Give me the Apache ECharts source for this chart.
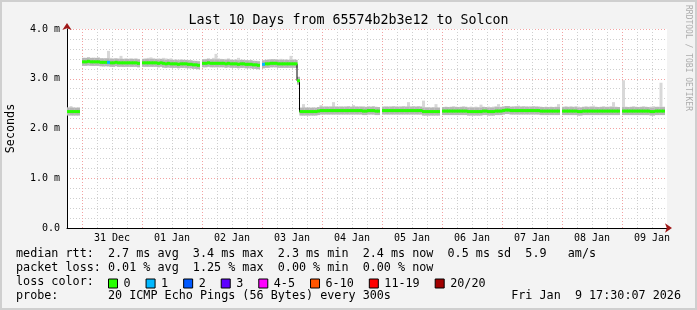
<!DOCTYPE html>
<html><head><meta charset="utf-8">
<script src="https://cdn.jsdelivr.net/npm/echarts@6/dist/echarts.min.js"></script>
<style>
html,body{margin:0;padding:0;background:#f3f3f3;}
#wrap{position:relative;width:697px;height:310px;}
#chart{width:697px;height:310px;}
#frame{position:absolute;left:0;top:0;width:697px;height:310px;box-sizing:border-box;border:2px solid #cfcfcf;pointer-events:none;}
</style></head><body>
<div id="wrap"><div id="chart"></div><div id="frame"></div></div>
<script>
// hours relative to 31 Dec 00:00, one bucket per hour
const startHour = -6;
const endHour = 234;
const dayLabels = ['31 Dec','01 Jan','02 Jan','03 Jan','04 Jan','05 Jan','06 Jan','07 Jan','08 Jan','09 Jan'];
const yTickLabels = ['0.0','1.0 m','2.0 m','3.0 m','4.0 m'];

// median rtt (ms), null = no data
const median = [
 2.34,2.34,2.34,2.34,2.34,null,3.34,3.34,3.35,3.34,3.34,3.34,3.34,3.33,3.33,3.33,3.33,3.32,3.32,3.33,3.32,3.32,3.32,3.32,
 3.32,3.32,3.32,3.32,3.31,null,3.32,3.32,3.32,3.32,3.32,3.32,3.31,3.32,3.31,3.30,3.31,3.30,3.30,3.30,3.29,3.30,3.30,3.30,
 3.29,3.29,3.28,3.28,3.27,null,3.31,3.31,3.32,3.31,3.31,3.31,3.31,3.31,3.31,3.30,3.31,3.30,3.30,3.30,3.29,3.30,3.30,3.29,
 3.29,3.29,3.28,3.28,3.27,null,3.29,3.30,3.30,3.31,3.31,3.31,3.30,3.30,3.30,3.30,3.30,3.30,3.30,3.30,2.96,2.34,2.34,2.34,
 2.34,2.34,2.34,2.34,2.35,2.36,2.36,2.36,2.36,2.36,2.36,2.36,2.36,2.36,2.36,2.36,2.36,2.36,2.36,2.36,2.36,2.36,2.35,2.35,
 2.36,2.36,2.36,2.35,2.35,null,2.36,2.36,2.36,2.36,2.36,2.36,2.36,2.36,2.36,2.36,2.36,2.36,2.36,2.36,2.36,2.36,2.34,2.34,
 2.34,2.34,2.34,2.34,2.34,null,2.35,2.35,2.35,2.35,2.35,2.35,2.35,2.35,2.35,2.35,2.34,2.34,2.34,2.34,2.34,2.34,2.35,2.35,
 2.34,2.34,2.34,2.35,2.35,2.35,2.36,2.37,2.37,2.36,2.36,2.36,2.36,2.36,2.36,2.36,2.36,2.36,2.36,2.36,2.36,2.35,2.35,2.35,
 2.35,2.35,2.35,2.35,2.35,null,2.35,2.35,2.35,2.35,2.35,2.35,2.34,2.34,2.35,2.35,2.35,2.35,2.35,2.35,2.35,2.35,2.35,2.35,
 2.35,2.35,2.35,2.35,2.35,null,2.35,2.35,2.35,2.35,2.35,2.35,2.35,2.35,2.35,2.35,2.35,2.34,2.34,2.35,2.35,2.35,2.35,null
];
// smoke: highest ping per bucket
const smokeHi = [
 2.42,2.45,2.42,2.41,2.42,null,3.41,3.40,3.42,3.41,3.42,3.41,3.43,3.41,3.40,3.41,3.56,3.42,3.41,3.40,3.41,3.46,3.40,3.41,
 3.40,3.41,3.40,3.41,3.40,null,3.40,3.41,3.42,3.43,3.41,3.40,3.41,3.40,3.42,3.41,3.40,3.41,3.38,3.39,3.38,3.39,3.38,3.37,
 3.38,3.37,3.36,3.35,3.36,null,3.39,3.40,3.41,3.40,3.42,3.50,3.41,3.40,3.39,3.40,3.41,3.39,3.38,3.39,3.42,3.38,3.37,3.38,
 3.37,3.38,3.36,3.35,3.36,null,3.37,3.38,3.39,3.38,3.39,3.38,3.39,3.40,3.38,3.39,3.38,3.46,3.39,3.38,3.00,2.41,2.49,2.42,
 2.42,2.41,2.42,2.41,2.43,2.47,2.43,2.44,2.43,2.44,2.53,2.44,2.43,2.44,2.43,2.44,2.45,2.43,2.47,2.44,2.43,2.44,2.45,2.44,
 2.44,2.43,2.45,2.44,2.43,null,2.43,2.44,2.43,2.44,2.45,2.44,2.43,2.44,2.45,2.44,2.53,2.44,2.45,2.44,2.45,2.44,2.56,2.43,
 2.43,2.42,2.43,2.49,2.42,null,2.43,2.44,2.43,2.44,2.45,2.44,2.43,2.44,2.45,2.44,2.43,2.44,2.43,2.44,2.43,2.48,2.44,2.43,
 2.44,2.43,2.44,2.45,2.49,2.44,2.44,2.45,2.44,2.43,2.44,2.45,2.46,2.44,2.45,2.44,2.43,2.44,2.45,2.44,2.43,2.44,2.43,2.44,
 2.43,2.44,2.43,2.44,2.49,null,2.44,2.45,2.44,2.45,2.44,2.45,2.44,2.43,2.44,2.45,2.44,2.45,2.46,2.44,2.43,2.44,2.45,2.44,
 2.44,2.45,2.53,2.44,2.43,null,2.97,2.44,2.43,2.44,2.45,2.44,2.43,2.44,2.45,2.44,2.43,2.44,2.45,2.44,2.44,2.92,2.44,null
];
// smoke: lowest ping per bucket
const smokeLo = [
 2.28,2.28,2.29,2.28,2.28,null,3.27,3.27,3.26,3.27,3.26,3.27,3.26,3.27,3.25,3.26,3.25,3.26,3.25,3.26,3.25,3.26,3.24,3.25,
 3.25,3.24,3.25,3.25,3.24,null,3.26,3.25,3.26,3.25,3.26,3.25,3.24,3.25,3.22,3.23,3.22,3.23,3.22,3.23,3.22,3.23,3.22,3.21,
 3.22,3.21,3.21,3.20,3.21,null,3.25,3.24,3.25,3.24,3.25,3.24,3.25,3.24,3.25,3.24,3.23,3.24,3.23,3.22,3.23,3.22,3.23,3.22,
 3.22,3.21,3.21,3.20,3.21,null,3.24,3.23,3.24,3.23,3.24,3.23,3.24,3.23,3.24,3.23,3.24,3.23,3.24,3.23,2.93,2.27,2.27,2.28,
 2.27,2.28,2.27,2.28,2.29,2.30,2.29,2.30,2.29,2.31,2.29,2.30,2.29,2.30,2.30,2.29,2.30,2.29,2.30,2.29,2.30,2.29,2.28,2.29,
 2.29,2.30,2.29,2.28,2.29,null,2.30,2.29,2.30,2.29,2.30,2.29,2.30,2.29,2.30,2.29,2.30,2.29,2.30,2.29,2.30,2.29,2.28,2.27,
 2.27,2.28,2.27,2.28,2.27,null,2.28,2.29,2.28,2.29,2.28,2.29,2.28,2.29,2.28,2.29,2.27,2.28,2.27,2.28,2.27,2.28,2.28,2.29,
 2.28,2.27,2.28,2.28,2.29,2.28,2.29,2.30,2.30,2.29,2.30,2.29,2.30,2.29,2.30,2.29,2.30,2.29,2.30,2.29,2.29,2.28,2.29,2.28,
 2.29,2.28,2.29,2.28,2.29,null,2.28,2.29,2.28,2.29,2.28,2.29,2.27,2.28,2.28,2.29,2.28,2.29,2.28,2.29,2.28,2.29,2.28,2.29,
 2.28,2.29,2.28,2.29,2.28,null,2.28,2.29,2.28,2.29,2.28,2.29,2.28,2.29,2.28,2.29,2.28,2.27,2.27,2.28,2.29,2.28,2.29,null
];
// buckets with packet loss (hour, lost pings of 20)
const lossHours = [10, 72];
const lossCounts = [1, 1];

const lossLegend = ['0','1','2','3','4-5','6-10','11-19','20/20'];
const lossColors = ['#26ff00','#00b8ff','#0059ff','#5e00ff','#ff00ff','#ff5500','#ff0000','#a10000'];

const titleText = 'Last 10 Days from 65574b2b3e12 to Solcon';
const statLines = [
 'median rtt:  2.7 ms avg  3.4 ms max  2.3 ms min  2.4 ms now  0.5 ms sd  5.9   am/s',
 'packet loss: 0.01 % avg  1.25 % max  0.00 % min  0.00 % now',
 'loss color:',
 'probe:       20 ICMP Echo Pings (56 Bytes) every 300s'
];
const dateText = 'Fri Jan  9 17:30:07 2026';
const creditText = 'RRDTOOL / TOBI OETIKER';

const MONO = 'DejaVu Sans Mono';
const FOOT_FONT = '11.75px "DejaVu Sans Mono"';

// build data
const smokeData = [];
const lineData = [];
const medByLoss = lossLegend.map(() => []);
median.forEach((m, i) => {
  const h = startHour + i;
  if (m == null) { lineData.push([h, '-']); return; }
  smokeData.push([h, smokeLo[i], smokeHi[i], m]);
  lineData.push([h, m]);
  const li = lossHours.indexOf(h);
  const lc = li >= 0 ? lossCounts[li] : 0;
  medByLoss[lc].push([h, m]);
});

function renderSmoke(params, api) {
  const h = api.value(0);
  const a = api.coord([h, api.value(2)]);
  const b = api.coord([h + 1, api.value(1)]);
  const m = api.coord([h, api.value(3)]);
  const w = b[0] - a[0] + 0.5;
  return {type: 'group', children: [
    {type: 'rect', shape: {x: a[0], y: a[1], width: w, height: b[1] - a[1]}, style: {fill: '#d8d8d8'}},
    {type: 'rect', shape: {x: a[0], y: m[1] - 4, width: w, height: 8}, style: {fill: '#b6b6b6'}}
  ]};
}
function renderMedian(params, api) {
  const h = api.value(0);
  const a = api.coord([h, api.value(1)]);
  const b = api.coord([h + 1, api.value(1)]);
  return {type: 'rect', shape: {x: a[0], y: a[1] - 1.5, width: b[0] - a[0] + 0.5, height: 3}, style: {fill: api.visual('color')}};
}

const series = [
  {type: 'custom', name: 'smoke', xAxisIndex: 0, yAxisIndex: 0, z: 2, renderItem: renderSmoke, data: smokeData, silent: true},
  {type: 'line', name: 'step', xAxisIndex: 0, yAxisIndex: 0, z: 3, step: 'end', showSymbol: false, symbol: 'none',
   lineStyle: {color: '#000', width: 1}, data: lineData, silent: true, connectNulls: false}
];
lossLegend.forEach((name, k) => {
  series.push({type: 'custom', name: name, xAxisIndex: 0, yAxisIndex: 0, z: 4, renderItem: renderMedian,
    itemStyle: {color: lossColors[k]}, data: medByLoss[k], silent: true});
});

const gridStyle = {color: '#cfcfcf', type: [1, 2], width: 1};
const majorStyle = {color: '#f3a3a3', type: [1, 2], width: 1};
const gridBase = {top: 29, height: 199, containLabel: false, outerBoundsMode: 'none'};

const option = {
  animation: false,
  backgroundColor: '#f3f3f3',
  title: {text: titleText, left: 'center', top: 9,
    textStyle: {fontFamily: MONO, fontSize: 13.3, fontWeight: 'normal', color: '#000'}},
  grid: [
    Object.assign({left: 67, width: 600, show: true, backgroundColor: '#ffffff', borderWidth: 0}, gridBase),
    Object.assign({left: 67, width: 600}, gridBase),
    Object.assign({left: 82, width: 585}, gridBase)
  ],
  xAxis: [
    {gridIndex: 0, type: 'value', min: startHour, max: endHour, interval: 6,
     splitLine: {show: true, showMinLine: false, showMaxLine: false, lineStyle: gridStyle},
     axisLine: {show: true, onZero: false, lineStyle: {color: '#000', width: 1}},
     axisTick: {show: false},
     axisLabel: {margin: 5, fontFamily: MONO, fontSize: 10, color: '#000',
       formatter: v => { const k = (v - 12) / 24; return (Number.isInteger(k) && k >= 0 && k < dayLabels.length) ? dayLabels[k] : ''; }}},
    {gridIndex: 1, type: 'value', min: startHour, max: endHour, show: false},
    {gridIndex: 2, type: 'value', min: 0, max: endHour, interval: 24,
     splitLine: {show: true, showMinLine: true, showMaxLine: false, lineStyle: majorStyle},
     axisLine: {show: true, onZero: false, symbol: ['none', 'arrow'], symbolSize: [7, 7], symbolOffset: [0, 5],
       lineStyle: {color: '#a01818', width: 0}},
     axisTick: {show: false}, axisLabel: {show: false}}
  ],
  yAxis: [
    {gridIndex: 0, type: 'value', min: 0, max: 4, interval: 0.2,
     splitLine: {show: true, lineStyle: gridStyle},
     axisLine: {show: true, onZero: false, lineStyle: {color: '#000', width: 1}},
     axisTick: {show: false}, axisLabel: {show: false}},
    {gridIndex: 1, type: 'value', min: 0, max: 4, interval: 1,
     splitLine: {show: true, lineStyle: majorStyle},
     axisLine: {show: true, onZero: false, symbol: ['none', 'arrow'], symbolSize: [7, 7], symbolOffset: [0, 6],
       lineStyle: {color: '#a01818', width: 0}},
     axisTick: {show: false},
     axisLabel: {margin: 7, fontFamily: MONO, fontSize: 10, color: '#000',
       formatter: v => yTickLabels[Math.round(v)] || ''},
     name: 'Seconds', nameLocation: 'middle', nameGap: 50,
     nameTextStyle: {fontFamily: MONO, fontSize: 11.75, color: '#000'}},
    {gridIndex: 2, type: 'value', min: 0, max: 4, show: false}
  ],
  legend: {data: lossLegend, left: 108, top: 277.5, itemWidth: 9, itemHeight: 9, itemGap: 15, icon: 'rect',
    selectedMode: false, padding: 0,
    itemStyle: {borderColor: '#000', borderWidth: 1},
    textStyle: {fontFamily: MONO, fontSize: 11.75, color: '#000', padding: [0, 0, 0, 1]}},
  graphic: [
    {type: 'text', x: 16, y: 254, style: {text: statLines[0], font: FOOT_FONT, fill: '#000', verticalAlign: 'middle'}},
    {type: 'text', x: 16, y: 268, style: {text: statLines[1], font: FOOT_FONT, fill: '#000', verticalAlign: 'middle'}},
    {type: 'text', x: 16, y: 282, style: {text: statLines[2], font: FOOT_FONT, fill: '#000', verticalAlign: 'middle'}},
    {type: 'text', x: 16, y: 296, style: {text: statLines[3], font: FOOT_FONT, fill: '#000', verticalAlign: 'middle'}},
    {type: 'text', x: 681, y: 296, style: {text: dateText, font: FOOT_FONT, fill: '#000', align: 'right', verticalAlign: 'middle'}},
    {type: 'text', x: 688, y: 58, rotation: -Math.PI / 2, style: {text: creditText, font: '8px "DejaVu Sans Mono"', fill: '#acacac', align: 'center', verticalAlign: 'middle'}}
  ],
  series: series
};

const chart = echarts.init(document.getElementById('chart'));
chart.setOption(option);
</script>
</body></html>
